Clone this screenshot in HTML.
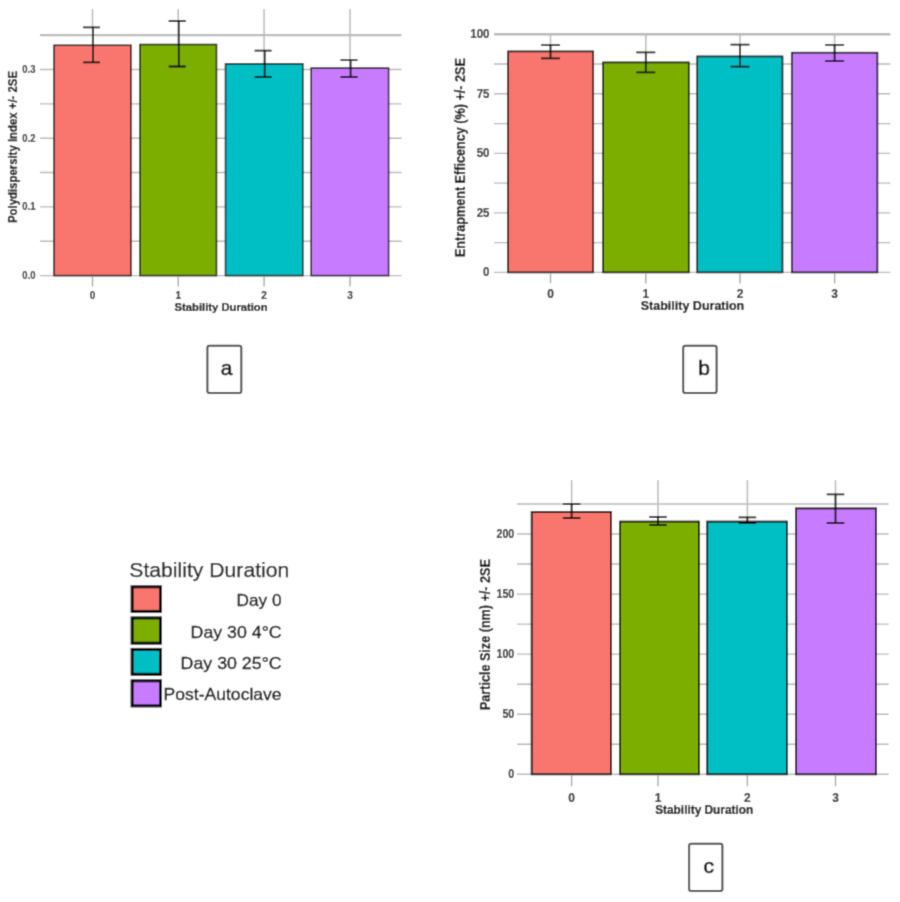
<!DOCTYPE html>
<html><head><meta charset="utf-8"><style>
html,body{margin:0;padding:0;background:#fff;}
body{width:900px;height:902px;overflow:hidden;}
svg{display:block;font-family:"Liberation Sans",sans-serif;}
</style></head><body>
<svg width="900" height="902" viewBox="0 0 900 902">
<defs><filter id="bl" x="0" y="0" width="100%" height="100%"><feConvolveMatrix order="3" kernelMatrix="0.02768 0.11101 0.02768 0.11101 0.44521 0.11101 0.02768 0.11101 0.02768" edgeMode="duplicate" preserveAlpha="false"/></filter></defs>
<g filter="url(#bl)">
<rect width="900" height="902" fill="#fff"/>
<line x1="40" y1="275.6" x2="401.5" y2="275.6" stroke="#b8b8b8" stroke-width="1.4"/>
<line x1="40" y1="241.25" x2="401.5" y2="241.25" stroke="#b8b8b8" stroke-width="1.4"/>
<line x1="40" y1="206.9" x2="401.5" y2="206.9" stroke="#b8b8b8" stroke-width="1.4"/>
<line x1="40" y1="172.55" x2="401.5" y2="172.55" stroke="#b8b8b8" stroke-width="1.4"/>
<line x1="40" y1="138.2" x2="401.5" y2="138.2" stroke="#b8b8b8" stroke-width="1.4"/>
<line x1="40" y1="103.85" x2="401.5" y2="103.85" stroke="#b8b8b8" stroke-width="1.4"/>
<line x1="40" y1="69.5" x2="401.5" y2="69.5" stroke="#b8b8b8" stroke-width="1.4"/>
<line x1="40" y1="35.15" x2="401.5" y2="35.15" stroke="#bcbcbc" stroke-width="2.3"/>
<line x1="92.5" y1="9" x2="92.5" y2="275.6" stroke="#b8b8b8" stroke-width="1.5"/>
<line x1="178.2" y1="9" x2="178.2" y2="275.6" stroke="#b8b8b8" stroke-width="1.5"/>
<line x1="264.1" y1="9" x2="264.1" y2="275.6" stroke="#b8b8b8" stroke-width="1.5"/>
<line x1="350" y1="9" x2="350" y2="275.6" stroke="#b8b8b8" stroke-width="1.5"/>
<rect x="54" y="45.3" width="77" height="230.3" fill="#F8766D" stroke="#0a0a0a" stroke-width="1.5"/>
<rect x="140" y="44.5" width="76.5" height="231.10000000000002" fill="#7CAE00" stroke="#0a0a0a" stroke-width="1.5"/>
<rect x="225.5" y="63.8" width="77.30000000000001" height="211.8" fill="#00BFC4" stroke="#0a0a0a" stroke-width="1.5"/>
<rect x="311.2" y="68.1" width="77.40000000000003" height="207.50000000000003" fill="#C77CFF" stroke="#0a0a0a" stroke-width="1.5"/>
<path d="M93.1 27.3V62.3M83.0 27.3H100.0M83.0 62.3H100.0" stroke="#0a0a0a" stroke-width="1.8" fill="none"/>
<path d="M178.79999999999998 21V66.5M168.7 21H185.7M168.7 66.5H185.7" stroke="#0a0a0a" stroke-width="1.8" fill="none"/>
<path d="M264.70000000000005 50.6V77M254.60000000000002 50.6H271.6M254.60000000000002 77H271.6" stroke="#0a0a0a" stroke-width="1.8" fill="none"/>
<path d="M350.6 60.2V77M340.5 60.2H357.5M340.5 77H357.5" stroke="#0a0a0a" stroke-width="1.8" fill="none"/>
<line x1="92.5" y1="276.6" x2="92.5" y2="286.6" stroke="#a0a0a0" stroke-width="1.3"/>
<line x1="178.2" y1="276.6" x2="178.2" y2="286.6" stroke="#a0a0a0" stroke-width="1.3"/>
<line x1="264.1" y1="276.6" x2="264.1" y2="286.6" stroke="#a0a0a0" stroke-width="1.3"/>
<line x1="350" y1="276.6" x2="350" y2="286.6" stroke="#a0a0a0" stroke-width="1.3"/>
<text x="92.5" y="298.5" font-size="10" font-weight="bold" text-anchor="middle" fill="#222" stroke="#222" stroke-width="0.15">0</text>
<text x="178.2" y="298.5" font-size="10" font-weight="bold" text-anchor="middle" fill="#222" stroke="#222" stroke-width="0.15">1</text>
<text x="264.1" y="298.5" font-size="10" font-weight="bold" text-anchor="middle" fill="#222" stroke="#222" stroke-width="0.15">2</text>
<text x="350" y="298.5" font-size="10" font-weight="bold" text-anchor="middle" fill="#222" stroke="#222" stroke-width="0.15">3</text>
<text x="35.5" y="275.6" font-size="10" font-weight="bold" text-anchor="end" dominant-baseline="central" fill="#2a2a2a" stroke="#2a2a2a" stroke-width="0.15" textLength="13.200000000000001" lengthAdjust="spacingAndGlyphs">0.0</text>
<text x="35.5" y="206.9" font-size="10" font-weight="bold" text-anchor="end" dominant-baseline="central" fill="#2a2a2a" stroke="#2a2a2a" stroke-width="0.15" textLength="13.200000000000001" lengthAdjust="spacingAndGlyphs">0.1</text>
<text x="35.5" y="138.2" font-size="10" font-weight="bold" text-anchor="end" dominant-baseline="central" fill="#2a2a2a" stroke="#2a2a2a" stroke-width="0.15" textLength="13.200000000000001" lengthAdjust="spacingAndGlyphs">0.2</text>
<text x="35.5" y="69.5" font-size="10" font-weight="bold" text-anchor="end" dominant-baseline="central" fill="#2a2a2a" stroke="#2a2a2a" stroke-width="0.15" textLength="13.200000000000001" lengthAdjust="spacingAndGlyphs">0.3</text>
<text x="221.1" y="311.2" font-size="11" font-weight="bold" text-anchor="middle" fill="#000" stroke="#000" stroke-width="0.2" textLength="93" lengthAdjust="spacingAndGlyphs">Stability Duration</text>
<text transform="translate(13.3 147) rotate(-90)" x="0" y="0" font-size="12.6" font-weight="bold" text-anchor="middle" dominant-baseline="central" fill="#000" stroke="#000" stroke-width="0.2" textLength="152" lengthAdjust="spacingAndGlyphs">Polydispersity Index +/- 2SE</text>
<line x1="494" y1="272.4" x2="890.3" y2="272.4" stroke="#b8b8b8" stroke-width="1.4"/>
<line x1="494" y1="242.64" x2="890.3" y2="242.64" stroke="#b8b8b8" stroke-width="1.4"/>
<line x1="494" y1="212.88" x2="890.3" y2="212.88" stroke="#b8b8b8" stroke-width="1.4"/>
<line x1="494" y1="183.11" x2="890.3" y2="183.11" stroke="#b8b8b8" stroke-width="1.4"/>
<line x1="494" y1="153.35" x2="890.3" y2="153.35" stroke="#b8b8b8" stroke-width="1.4"/>
<line x1="494" y1="123.59" x2="890.3" y2="123.59" stroke="#b8b8b8" stroke-width="1.4"/>
<line x1="494" y1="93.82" x2="890.3" y2="93.82" stroke="#b8b8b8" stroke-width="1.4"/>
<line x1="494" y1="64.06" x2="890.3" y2="64.06" stroke="#b8b8b8" stroke-width="1.4"/>
<line x1="494" y1="34.3" x2="890.3" y2="34.3" stroke="#b8b8b8" stroke-width="2.5"/>
<line x1="550.5" y1="34.3" x2="550.5" y2="272.4" stroke="#b8b8b8" stroke-width="1.5"/>
<line x1="645.8" y1="34.3" x2="645.8" y2="272.4" stroke="#b8b8b8" stroke-width="1.5"/>
<line x1="740" y1="34.3" x2="740" y2="272.4" stroke="#b8b8b8" stroke-width="1.5"/>
<line x1="834.6" y1="34.3" x2="834.6" y2="272.4" stroke="#b8b8b8" stroke-width="1.5"/>
<rect x="508" y="51.4" width="85.20000000000005" height="220.99999999999997" fill="#F8766D" stroke="#0a0a0a" stroke-width="1.7"/>
<rect x="603" y="62.4" width="85.79999999999995" height="209.99999999999997" fill="#7CAE00" stroke="#0a0a0a" stroke-width="1.7"/>
<rect x="697.2" y="56.4" width="85.29999999999995" height="215.99999999999997" fill="#00BFC4" stroke="#0a0a0a" stroke-width="1.7"/>
<rect x="791.8" y="52.7" width="85.60000000000002" height="219.7" fill="#C77CFF" stroke="#0a0a0a" stroke-width="1.7"/>
<path d="M550.5 45.2V58.4M541.0 45.2H560.0M541.0 58.4H560.0" stroke="#0a0a0a" stroke-width="1.8" fill="none"/>
<path d="M645.8 52.4V72.4M636.3 52.4H655.3M636.3 72.4H655.3" stroke="#0a0a0a" stroke-width="1.8" fill="none"/>
<path d="M740 44.6V66.6M730.5 44.6H749.5M730.5 66.6H749.5" stroke="#0a0a0a" stroke-width="1.8" fill="none"/>
<path d="M834.6 44.9V61.2M825.1 44.9H844.1M825.1 61.2H844.1" stroke="#0a0a0a" stroke-width="1.8" fill="none"/>
<line x1="550.5" y1="273.4" x2="550.5" y2="283.4" stroke="#a0a0a0" stroke-width="1.3"/>
<line x1="645.8" y1="273.4" x2="645.8" y2="283.4" stroke="#a0a0a0" stroke-width="1.3"/>
<line x1="740" y1="273.4" x2="740" y2="283.4" stroke="#a0a0a0" stroke-width="1.3"/>
<line x1="834.6" y1="273.4" x2="834.6" y2="283.4" stroke="#a0a0a0" stroke-width="1.3"/>
<text x="550.5" y="297.5" font-size="12" font-weight="bold" text-anchor="middle" fill="#222" stroke="#222" stroke-width="0.15">0</text>
<text x="645.8" y="297.5" font-size="12" font-weight="bold" text-anchor="middle" fill="#222" stroke="#222" stroke-width="0.15">1</text>
<text x="740" y="297.5" font-size="12" font-weight="bold" text-anchor="middle" fill="#222" stroke="#222" stroke-width="0.15">2</text>
<text x="834.6" y="297.5" font-size="12" font-weight="bold" text-anchor="middle" fill="#222" stroke="#222" stroke-width="0.15">3</text>
<text x="489.5" y="272.4" font-size="12.5" font-weight="bold" text-anchor="end" dominant-baseline="central" fill="#2a2a2a" stroke="#2a2a2a" stroke-width="0.15" textLength="6.4" lengthAdjust="spacingAndGlyphs">0</text>
<text x="489.5" y="212.88" font-size="12.5" font-weight="bold" text-anchor="end" dominant-baseline="central" fill="#2a2a2a" stroke="#2a2a2a" stroke-width="0.15" textLength="12.8" lengthAdjust="spacingAndGlyphs">25</text>
<text x="489.5" y="153.35" font-size="12.5" font-weight="bold" text-anchor="end" dominant-baseline="central" fill="#2a2a2a" stroke="#2a2a2a" stroke-width="0.15" textLength="12.8" lengthAdjust="spacingAndGlyphs">50</text>
<text x="489.5" y="93.82" font-size="12.5" font-weight="bold" text-anchor="end" dominant-baseline="central" fill="#2a2a2a" stroke="#2a2a2a" stroke-width="0.15" textLength="12.8" lengthAdjust="spacingAndGlyphs">75</text>
<text x="489.5" y="34.3" font-size="12.5" font-weight="bold" text-anchor="end" dominant-baseline="central" fill="#2a2a2a" stroke="#2a2a2a" stroke-width="0.15" textLength="19.200000000000003" lengthAdjust="spacingAndGlyphs">100</text>
<text x="692.5" y="310" font-size="12.4" font-weight="bold" text-anchor="middle" fill="#000" stroke="#000" stroke-width="0.2" textLength="103.5" lengthAdjust="spacingAndGlyphs">Stability Duration</text>
<text transform="translate(460 157.6) rotate(-90)" x="0" y="0" font-size="14.3" font-weight="bold" text-anchor="middle" dominant-baseline="central" fill="#000" stroke="#000" stroke-width="0.2" textLength="199" lengthAdjust="spacingAndGlyphs">Entrapment Efficency (%) +/- 2SE</text>
<line x1="517" y1="774.3" x2="888.6" y2="774.3" stroke="#b8b8b8" stroke-width="1.4"/>
<line x1="517" y1="744.27" x2="888.6" y2="744.27" stroke="#b8b8b8" stroke-width="1.4"/>
<line x1="517" y1="714.23" x2="888.6" y2="714.23" stroke="#b8b8b8" stroke-width="1.4"/>
<line x1="517" y1="684.2" x2="888.6" y2="684.2" stroke="#b8b8b8" stroke-width="1.4"/>
<line x1="517" y1="654.17" x2="888.6" y2="654.17" stroke="#b8b8b8" stroke-width="1.4"/>
<line x1="517" y1="624.14" x2="888.6" y2="624.14" stroke="#b8b8b8" stroke-width="1.4"/>
<line x1="517" y1="594.11" x2="888.6" y2="594.11" stroke="#b8b8b8" stroke-width="1.4"/>
<line x1="517" y1="564.07" x2="888.6" y2="564.07" stroke="#b8b8b8" stroke-width="1.4"/>
<line x1="517" y1="534.04" x2="888.6" y2="534.04" stroke="#b8b8b8" stroke-width="1.4"/>
<line x1="517" y1="504.01" x2="888.6" y2="504.01" stroke="#b8b8b8" stroke-width="1.4"/>
<line x1="571.6" y1="480" x2="571.6" y2="774.3" stroke="#b8b8b8" stroke-width="1.5"/>
<line x1="658" y1="480" x2="658" y2="774.3" stroke="#b8b8b8" stroke-width="1.5"/>
<line x1="747.4" y1="480" x2="747.4" y2="774.3" stroke="#b8b8b8" stroke-width="1.5"/>
<line x1="835.5" y1="480" x2="835.5" y2="774.3" stroke="#b8b8b8" stroke-width="1.5"/>
<rect x="531.7" y="512" width="79.29999999999995" height="262.29999999999995" fill="#F8766D" stroke="#0a0a0a" stroke-width="1.9"/>
<rect x="620" y="521.6" width="79" height="252.69999999999993" fill="#7CAE00" stroke="#0a0a0a" stroke-width="1.9"/>
<rect x="707.2" y="521.6" width="79.79999999999995" height="252.69999999999993" fill="#00BFC4" stroke="#0a0a0a" stroke-width="1.9"/>
<rect x="796" y="508.4" width="80" height="265.9" fill="#C77CFF" stroke="#0a0a0a" stroke-width="1.9"/>
<path d="M571.6 504V518M562.85 504H580.35M562.85 518H580.35" stroke="#0a0a0a" stroke-width="1.8" fill="none"/>
<path d="M658 517V525M649.25 517H666.75M649.25 525H666.75" stroke="#0a0a0a" stroke-width="1.8" fill="none"/>
<path d="M747.4 517.4V523M738.65 517.4H756.15M738.65 523H756.15" stroke="#0a0a0a" stroke-width="1.8" fill="none"/>
<path d="M835.5 494.3V523M826.75 494.3H844.25M826.75 523H844.25" stroke="#0a0a0a" stroke-width="1.8" fill="none"/>
<line x1="571.6" y1="775.3" x2="571.6" y2="786.3" stroke="#a0a0a0" stroke-width="1.3"/>
<line x1="658" y1="775.3" x2="658" y2="786.3" stroke="#a0a0a0" stroke-width="1.3"/>
<line x1="747.4" y1="775.3" x2="747.4" y2="786.3" stroke="#a0a0a0" stroke-width="1.3"/>
<line x1="835.5" y1="775.3" x2="835.5" y2="786.3" stroke="#a0a0a0" stroke-width="1.3"/>
<text x="571.6" y="801.5" font-size="12" font-weight="bold" text-anchor="middle" fill="#222" stroke="#222" stroke-width="0.15">0</text>
<text x="658" y="801.5" font-size="12" font-weight="bold" text-anchor="middle" fill="#222" stroke="#222" stroke-width="0.15">1</text>
<text x="747.4" y="801.5" font-size="12" font-weight="bold" text-anchor="middle" fill="#222" stroke="#222" stroke-width="0.15">2</text>
<text x="835.5" y="801.5" font-size="12" font-weight="bold" text-anchor="middle" fill="#222" stroke="#222" stroke-width="0.15">3</text>
<text x="514.2" y="774.3" font-size="12" font-weight="bold" text-anchor="end" dominant-baseline="central" fill="#2a2a2a" stroke="#2a2a2a" stroke-width="0.15" textLength="5.9" lengthAdjust="spacingAndGlyphs">0</text>
<text x="514.2" y="714.23" font-size="12" font-weight="bold" text-anchor="end" dominant-baseline="central" fill="#2a2a2a" stroke="#2a2a2a" stroke-width="0.15" textLength="11.8" lengthAdjust="spacingAndGlyphs">50</text>
<text x="514.2" y="654.17" font-size="12" font-weight="bold" text-anchor="end" dominant-baseline="central" fill="#2a2a2a" stroke="#2a2a2a" stroke-width="0.15" textLength="17.700000000000003" lengthAdjust="spacingAndGlyphs">100</text>
<text x="514.2" y="594.11" font-size="12" font-weight="bold" text-anchor="end" dominant-baseline="central" fill="#2a2a2a" stroke="#2a2a2a" stroke-width="0.15" textLength="17.700000000000003" lengthAdjust="spacingAndGlyphs">150</text>
<text x="514.2" y="534.04" font-size="12" font-weight="bold" text-anchor="end" dominant-baseline="central" fill="#2a2a2a" stroke="#2a2a2a" stroke-width="0.15" textLength="17.700000000000003" lengthAdjust="spacingAndGlyphs">200</text>
<text x="704.2" y="814.2" font-size="12.6" font-weight="bold" text-anchor="middle" fill="#000" stroke="#000" stroke-width="0.2" textLength="98" lengthAdjust="spacingAndGlyphs">Stability Duration</text>
<text transform="translate(485.0 634.6) rotate(-90)" x="0" y="0" font-size="14" font-weight="bold" text-anchor="middle" dominant-baseline="central" fill="#000" stroke="#000" stroke-width="0.2" textLength="151" lengthAdjust="spacingAndGlyphs">Particle Size (nm) +/- 2SE</text>
<text x="129.3" y="576.5" font-size="20.5" fill="#1a1a1a" stroke="#1a1a1a" stroke-width="0.25" textLength="160" lengthAdjust="spacingAndGlyphs">Stability Duration</text>
<rect x="132.1" y="586.8000000000001" width="28.4" height="24.600000000000023" fill="#F8766D" stroke="#000" stroke-width="3"/>
<text x="281.6" y="600.7" font-size="17" text-anchor="end" dominant-baseline="central" fill="#000" stroke="#000" stroke-width="0.3" textLength="45" lengthAdjust="spacingAndGlyphs">Day 0</text>
<rect x="132.1" y="617.9000000000001" width="28.4" height="25.299999999999955" fill="#7CAE00" stroke="#000" stroke-width="3"/>
<text x="281.6" y="632.15" font-size="17" text-anchor="end" dominant-baseline="central" fill="#000" stroke="#000" stroke-width="0.3" textLength="91" lengthAdjust="spacingAndGlyphs">Day 30 4°C</text>
<rect x="132.1" y="649.4000000000001" width="28.4" height="24.899999999999977" fill="#00BFC4" stroke="#000" stroke-width="3"/>
<text x="281.6" y="663.45" font-size="17" text-anchor="end" dominant-baseline="central" fill="#000" stroke="#000" stroke-width="0.3" textLength="101" lengthAdjust="spacingAndGlyphs">Day 30 25°C</text>
<rect x="132.1" y="680.8000000000001" width="28.4" height="25.100000000000023" fill="#C77CFF" stroke="#000" stroke-width="3"/>
<text x="281.6" y="694.95" font-size="17" text-anchor="end" dominant-baseline="central" fill="#000" stroke="#000" stroke-width="0.3" textLength="118" lengthAdjust="spacingAndGlyphs">Post-Autoclave</text>
<rect x="207.4" y="345.7" width="33.89999999999999" height="47.2" rx="2" fill="none" stroke="#404040" stroke-width="2"/>
<text x="226.7" y="367.3" font-size="21" text-anchor="middle" dominant-baseline="central" fill="#111" stroke="#111" stroke-width="0.6">a</text>
<rect x="683.1999999999999" y="345.7" width="33.40000000000005" height="47.2" rx="2" fill="none" stroke="#404040" stroke-width="2"/>
<text x="704.2" y="367" font-size="21" text-anchor="middle" dominant-baseline="central" fill="#111" stroke="#111" stroke-width="0.6">b</text>
<rect x="689.1" y="843.6999999999999" width="33.29999999999991" height="47.300000000000026" rx="2" fill="none" stroke="#404040" stroke-width="2"/>
<text x="708.8" y="865.9" font-size="21" text-anchor="middle" dominant-baseline="central" fill="#111" stroke="#111" stroke-width="0.6">c</text>
</g>
</svg>
</body></html>
